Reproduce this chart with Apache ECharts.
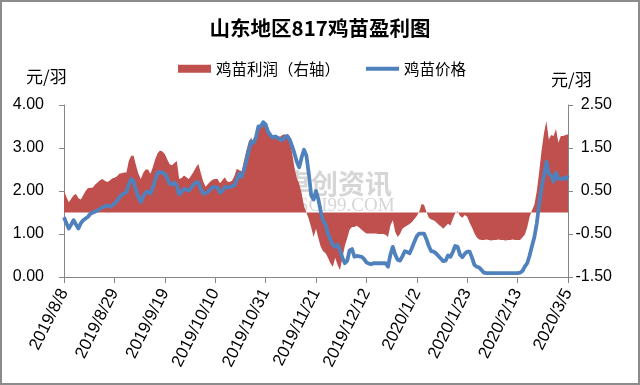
<!DOCTYPE html>
<html><head><meta charset="utf-8">
<script src="https://cdn.jsdelivr.net/npm/echarts@6/dist/echarts.min.js"></script>
<style>html,body{margin:0;padding:0;background:#fff}#c{width:640px;height:385px}</style>
</head><body><div id="c"></div>
<script>
var startDate = [2019, 8, 8];
var dayCount = 211;
var tickLabels = ['2019/8/8','2019/8/29','2019/9/19','2019/10/10','2019/10/31','2019/11/21','2019/12/12','2020/1/2','2020/1/23','2020/2/13','2020/3/5'];
var leftTicks = [0, 1, 2, 3, 4];
var rightTicks = [-1.5, -0.5, 0.5, 1.5, 2.5];
var seriesNames = ['鸡苗利润（右轴）', '鸡苗价格'];

var price = [
1.39,1.25,1.13,1.22,1.32,1.22,1.13,1.25,1.32,1.36,
1.40,1.47,1.50,1.52,1.55,1.58,1.62,1.65,1.66,1.63,
1.66,1.71,1.76,1.85,1.91,1.94,1.98,2.15,2.28,2.22,
2.02,1.85,1.74,1.88,1.96,1.99,1.94,2.08,2.25,2.43,
2.43,2.43,2.40,2.30,2.17,2.15,2.20,2.12,1.92,1.98,
2.05,2.03,2.01,2.08,2.15,2.20,2.20,2.05,1.94,1.95,
1.98,2.04,2.09,2.09,2.08,1.96,2.00,2.09,2.09,2.09,
2.11,2.13,2.26,2.40,2.33,2.48,2.72,2.95,3.15,3.12,
3.25,3.50,3.50,3.60,3.55,3.38,3.30,3.24,3.27,3.24,
3.20,3.18,3.25,3.28,3.20,3.05,2.88,2.68,2.55,2.78,
2.96,2.82,2.40,1.90,1.80,2.00,1.80,1.52,1.30,1.22,
1.00,0.88,0.75,0.70,0.75,0.62,0.45,0.32,0.38,0.62,
0.65,0.47,0.49,0.48,0.47,0.42,0.34,0.31,0.30,0.32,
0.32,0.32,0.32,0.32,0.32,0.24,0.52,0.70,0.52,0.40,
0.38,0.48,0.60,0.58,0.55,0.68,0.82,0.95,1.01,1.01,
1.01,0.88,0.72,0.60,0.59,0.55,0.49,0.43,0.37,0.38,
0.50,0.47,0.58,0.72,0.70,0.52,0.46,0.54,0.59,0.59,
0.45,0.28,0.24,0.22,0.16,0.10,0.09,0.09,0.09,0.09,
0.09,0.09,0.09,0.09,0.09,0.09,0.09,0.09,0.09,0.09,
0.10,0.14,0.24,0.32,0.50,0.72,0.93,1.25,1.70,2.09,
2.36,2.68,2.40,2.36,2.22,2.42,2.28,2.28,2.30,2.28,
2.36
];

var profit = [
0.51,0.36,0.24,0.32,0.40,0.43,0.33,0.30,0.40,0.50,
0.57,0.57,0.58,0.65,0.70,0.75,0.78,0.74,0.71,0.74,
0.79,0.81,0.84,0.90,0.91,0.93,0.93,1.20,1.32,1.32,
1.10,0.90,0.78,0.92,1.00,1.00,0.90,1.05,1.24,1.38,
1.44,1.42,1.36,1.24,1.12,1.10,1.15,1.20,0.78,0.80,
0.86,0.82,0.78,0.86,0.95,1.05,1.13,0.92,0.72,0.60,
0.66,0.72,0.77,0.78,0.78,0.68,0.75,0.82,0.72,0.71,
0.74,0.85,1.02,0.98,0.96,1.20,1.45,1.65,1.74,1.60,
1.80,2.00,2.05,2.10,2.05,1.90,1.82,1.78,1.80,1.78,
1.76,1.80,1.82,1.78,1.65,1.40,1.05,0.80,0.67,0.45,
0.15,0.00,-0.15,-0.35,-0.57,-0.38,-0.60,-0.80,-0.90,-0.95,
-1.05,-1.18,-1.26,-1.05,-1.22,-1.34,-1.05,-0.78,-0.60,-0.40,
-0.34,-0.34,-0.31,-0.35,-0.40,-0.45,-0.49,-0.49,-0.49,-0.49,
-0.49,-0.50,-0.50,-0.50,-0.52,-0.57,-0.30,-0.18,-0.45,-0.57,
-0.50,-0.38,-0.34,-0.30,-0.27,-0.22,-0.15,-0.08,0.02,0.20,
0.18,0.02,-0.12,-0.16,-0.18,-0.22,-0.28,-0.32,-0.38,-0.32,
-0.26,-0.30,-0.15,-0.02,0.03,-0.08,-0.12,-0.06,-0.10,-0.24,
-0.35,-0.48,-0.58,-0.63,-0.64,-0.64,-0.63,-0.64,-0.65,-0.64,
-0.64,-0.63,-0.64,-0.64,-0.65,-0.64,-0.64,-0.63,-0.64,-0.64,
-0.64,-0.58,-0.52,-0.35,-0.10,0.05,0.18,0.50,0.95,1.45,
1.85,2.13,1.70,1.80,1.78,1.94,1.62,1.78,1.78,1.80,
1.82
];

var categories = [];
(function(){
  var d = new Date(startDate[0], startDate[1]-1, startDate[2]);
  for (var i = 0; i < dayCount; i++) {
    categories.push(d.getFullYear() + '/' + (d.getMonth()+1) + '/' + d.getDate());
    d.setDate(d.getDate()+1);
  }
})();

var RED = '#C0504D', BLUE = '#4F81BD';
var numFont = 'Liberation Sans', cjk = '"Noto Sans CJK SC"';
var chart = echarts.init(document.getElementById('c'), null, {renderer:'canvas'});
chart.setOption({
  animation: false,
  backgroundColor: '#fff',
  title: {
    text: '山东地区817鸡苗盈利图', left: 'center', top: 13,
    textStyle: {fontFamily: cjk, fontSize: 20.5, fontWeight: 'bold', color: '#000'}
  },
  legend: {
    top: 61, left: 178, padding: 0, itemGap: 26, itemWidth: 33, itemHeight: 8,
    textStyle: {fontFamily: cjk, fontSize: 15.5, color: '#000'},
    data: [
      {name: seriesNames[0], icon: 'rect'},
      {name: seriesNames[1], icon: 'path://M0 0H33V4H0Z'}
    ]
  },
  grid: {left: 64, right: 72, top: 105, bottom: 108},
  xAxis: {
    type: 'category', data: categories, boundaryGap: false,
    axisLine: {lineStyle: {color: '#868686', width: 1}},
    axisTick: {interval: 20, length: 6, lineStyle: {color: '#868686'}},
    axisLabel: {interval: 20, rotate: 63, fontFamily: numFont, fontSize: 17, color: '#000', margin: 13},
    splitLine: {show: false}
  },
  yAxis: [{
    type: 'value', min: leftTicks[0], max: leftTicks[leftTicks.length-1], interval: 1, position: 'left',
    axisLine: {show: true, lineStyle: {color: '#868686'}},
    axisTick: {show: true, length: 5, lineStyle: {color: '#868686'}},
    axisLabel: {fontFamily: numFont, fontSize: 16, color: '#000', margin: 20, formatter: function(v){return v.toFixed(2);}},
    splitLine: {show: false}
  }, {
    type: 'value', min: rightTicks[0], max: rightTicks[rightTicks.length-1], interval: 1, position: 'right',
    axisLine: {show: true, lineStyle: {color: '#868686'}},
    axisTick: {show: true, length: 5, lineStyle: {color: '#868686'}},
    axisLabel: {fontFamily: numFont, fontSize: 16, color: '#000', margin: 44, align: 'right', formatter: function(v){return v.toFixed(2);}},
    splitLine: {show: false}
  }],
  graphic: [
    {type: 'rect', shape: {x: 1, y: 1, width: 638, height: 383}, style: {fill: null, stroke: '#8c8c8c', lineWidth: 2}, z: 100},
    {type: 'text', left: 26, top: 68, style: {text: '元/羽', font: '17px "Noto Sans CJK SC"', fill: '#000'}},
    {type: 'text', left: 551, top: 71, style: {text: '元/羽', font: '17px "Noto Sans CJK SC"', fill: '#000'}},
    {type: 'text', left: 284, top: 170, z: -1, style: {text: '卓创资讯', font: 'bold 27px "Noto Sans CJK SC"', fill: '#d6d6d6'}},
    {type: 'text', left: 298, top: 197, z: -1, style: {text: 'SCI99.COM', font: '19px "Liberation Serif"', fill: '#d6d6d6'}}
  ],
  series: [{
    name: seriesNames[0], type: 'line', yAxisIndex: 1, data: profit,
    symbol: 'none', showSymbol: false, itemStyle: {color: RED},
    lineStyle: {width: 0, color: RED}, areaStyle: {color: RED, opacity: 1}, z: 2
  }, {
    name: seriesNames[1], type: 'line', yAxisIndex: 0, data: price,
    symbol: 'none', showSymbol: false, itemStyle: {color: BLUE},
    lineStyle: {width: 3.8, color: BLUE, join: 'round'}, z: 3
  }]
});
</script></body></html>
